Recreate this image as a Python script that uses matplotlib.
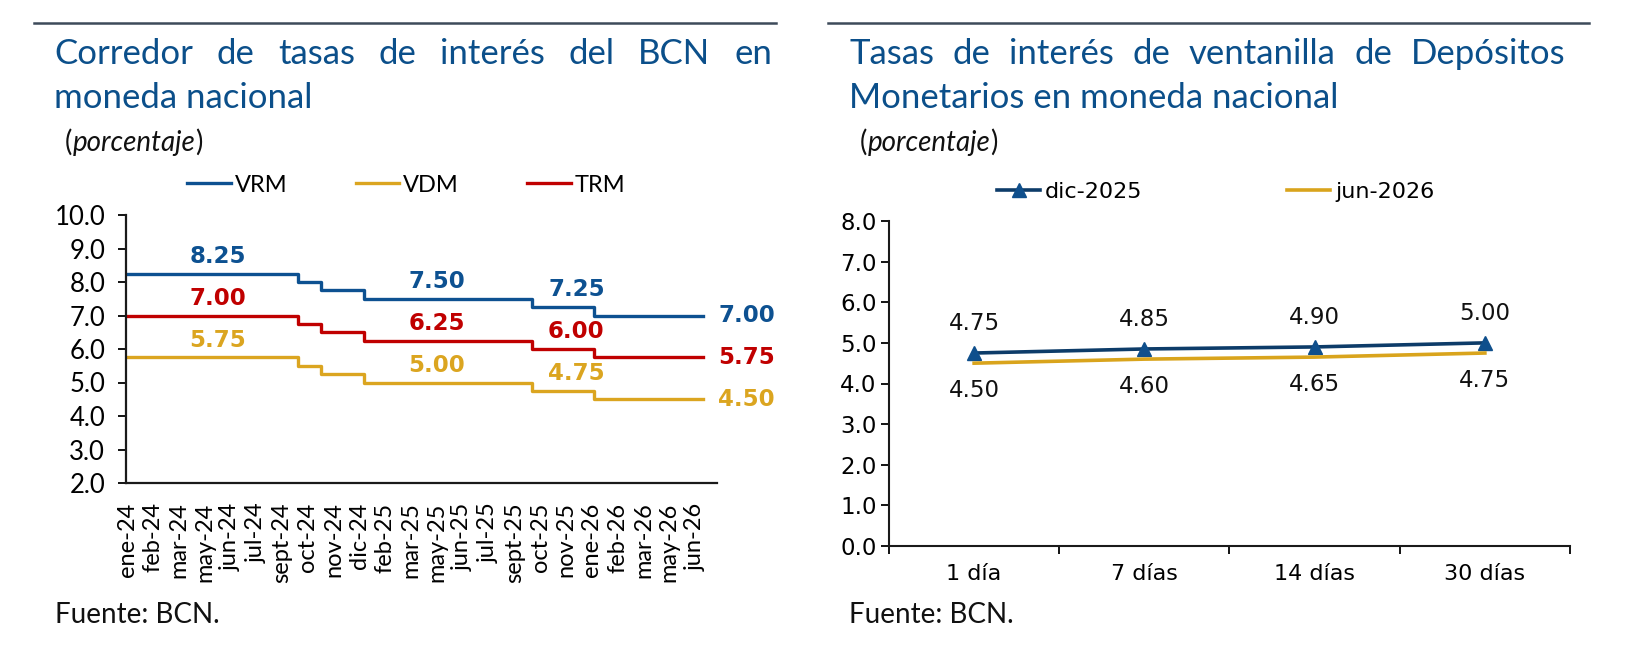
import matplotlib

matplotlib.use("Agg")
import matplotlib.pyplot as plt
from matplotlib.ticker import FormatStrFormatter

# --- datos: corredor de tasas (eje por categorias, cambios) ---
fechas = ["ene-24", "feb-24", "mar-24", "may-24", "jun-24", "jul-24", "sept-24",
          "oct-24", "nov-24", "dic-24", "feb-25", "mar-25", "may-25", "jun-25",
          "jul-25", "sept-25", "oct-25", "nov-25", "ene-26", "feb-26", "mar-26",
          "may-26", "jun-26"]
# posicion (en unidades del eje) donde empieza cada nivel, ultimo = fin de la serie
cambios = [0.0, 6.62, 7.52, 9.16, 15.68, 18.1, 22.3]
vrm = [8.25, 8.00, 7.75, 7.50, 7.25, 7.00]
vdm = [5.75, 5.50, 5.25, 5.00, 4.75, 4.50]
trm = [7.00, 6.75, 6.50, 6.25, 6.00, 5.75]
# tramos rotulados y donde va el rotulo
tramos_rot = [0, 3, 4]
x_rot = [3.5, 12.0, 17.4]

# --- datos: ventanilla de depositos monetarios ---
plazos = ["1 día", "7 días", "14 días", "30 días"]
dic_2025 = [4.75, 4.85, 4.90, 5.00]
jun_2026 = [4.50, 4.60, 4.65, 4.75]

AZUL = "#0d5191"
ORO = "#dba520"
ROJO = "#c00000"
TITULO = "#0b4f8a"
FUT = "Lato"

W, H = 1638, 654
fig = plt.figure(figsize=(W / 100, H / 100), dpi=100)

# capa para textos y reglas en coordenadas de pixel
ov = fig.add_axes([0, 0, 1, 1])
ov.set_xlim(0, W)
ov.set_ylim(H, 0)
ov.axis("off")

ov.plot([34, 776], [23, 23], color="#3d4a5a", lw=1.8)
ov.plot([828, 1589], [23, 23], color="#3d4a5a", lw=1.8)

renderer = fig.canvas.get_renderer()


def justificado(texto, x0, x1, y, **kw):
    palabras = texto.split()
    objs = [ov.text(0, y, p, va="baseline", **kw) for p in palabras]
    anchos = [o.get_window_extent(renderer=renderer).width for o in objs]
    gap = (x1 - x0 - sum(anchos)) / (len(palabras) - 1)
    x = x0
    for o, a in zip(objs, anchos):
        o.set_x(x)
        x += a + gap


tkw = dict(family=FUT, fontsize=25, color=TITULO)
justificado("Corredor de tasas de interés del BCN en", 54, 772, 64, **tkw)
ov.text(54, 108, "moneda nacional", va="baseline", **tkw)
justificado("Tasas de interés de ventanilla de Depósitos", 849, 1565, 64, **tkw)
ov.text(849, 108, "Monetarios en moneda nacional", va="baseline", **tkw)

for x0 in (65, 860):
    t1 = ov.text(x0, 151, "(", va="baseline", family=FUT, fontsize=20, color="#111111")
    t2 = ov.annotate("porcentaje", xy=(1, 0), xycoords=t1, va="bottom",
                     family=FUT, fontsize=20, style="italic", color="#111111")
    ov.annotate(")", xy=(1, 0), xycoords=t2, va="bottom",
                family=FUT, fontsize=20, color="#111111")

ov.text(55, 615, "Fuente: BCN.", va="center", family=FUT, fontsize=20, color="#111111")
ov.text(849, 615, "Fuente: BCN.", va="center", family=FUT, fontsize=20, color="#111111")

# ---------------- panel izquierdo ----------------
ax1 = fig.add_axes([126 / W, 1 - 483 / H, (717 - 126) / W, (483 - 215) / H])
series = [("VRM", vrm, AZUL), ("VDM", vdm, ORO), ("TRM", trm, ROJO)]
for nombre, vals, col in series:
    ax1.step(cambios, vals + vals[-1:], where="post", color=col, lw=2.4, label=nombre)

ax1.set_xlim(-0.05, 22.85)
ax1.set_ylim(2, 10)
ax1.set_xticks(range(len(fechas)))
ax1.set_xticklabels(fechas, rotation=90, family=FUT, fontsize=17)
ax1.set_yticks(range(2, 11))
ax1.yaxis.set_major_formatter(FormatStrFormatter("%.1f"))
for lab in ax1.get_yticklabels():
    lab.set_family(FUT)
    lab.set_fontsize(18.5)
ax1.tick_params(axis="x", length=0, pad=14)
ax1.tick_params(axis="y", length=6, width=1.3, pad=9)
for s in ("top", "right"):
    ax1.spines[s].set_visible(False)
for s in ("left", "bottom"):
    ax1.spines[s].set_linewidth(1.6)
    ax1.spines[s].set_color("#1a1a1a")

for nombre, vals, col in series:
    for i, xr in zip(tramos_rot, x_rot):
        ax1.annotate(f"{vals[i]:.2f}", (xr, vals[i]), xytext=(0, 12.5),
                     textcoords="offset points", ha="center", va="center",
                     fontweight="bold", fontsize=16.5, color=col)
    ax1.annotate(f"{vals[-1]:.2f}", (22.85, vals[-1]), xytext=(1, 0),
                 textcoords="offset points", ha="left", va="center",
                 fontweight="bold", fontsize=16.5, color=col, annotation_clip=False)

ax1.legend(loc="center left", bbox_to_anchor=(187, 185), bbox_transform=ov.transData,
           ncol=3, frameon=False, handlelength=1.86, handletextpad=0.15,
           columnspacing=2.9, borderpad=0, borderaxespad=0,
           prop={"family": FUT, "size": 17})

# ---------------- panel derecho ----------------
ax2 = fig.add_axes([889 / W, 1 - 546 / H, (1570 - 889) / W, (546 - 221) / H])
xs = range(len(plazos))
ax2.plot(xs, dic_2025, color="#0d3c69", lw=2.6, marker="^", ms=10,
         mfc="#0f4f8c", mec="#0f4f8c", label="dic-2025")
ax2.plot(xs, jun_2026, color="#d9a41c", lw=2.6, label="jun-2026")

for x, v in zip(xs, dic_2025):
    ax2.annotate(f"{v:.2f}", (x, v), xytext=(0, 21), textcoords="offset points",
                 ha="center", va="center", fontsize=16.5, color="#111111")
for x, v in zip(xs, jun_2026):
    ax2.annotate(f"{v:.2f}", (x, v), xytext=(0, -20), textcoords="offset points",
                 ha="center", va="center", fontsize=16.5, color="#111111")

ax2.set_xlim(-0.5, 3.5)
ax2.set_ylim(0, 8)
ax2.set_xticks(list(xs))
ax2.set_xticklabels(plazos, fontsize=16)
ax2.set_xticks([i - 0.5 for i in range(len(plazos) + 1)], minor=True)
ax2.set_yticks(range(0, 9))
ax2.yaxis.set_major_formatter(FormatStrFormatter("%.1f"))
ax2.tick_params(axis="y", labelsize=16.5, length=6, width=1.3, pad=3)
ax2.tick_params(axis="x", which="major", length=0, pad=13)
ax2.tick_params(axis="x", which="minor", length=6, width=1.3)
for s in ("top", "right"):
    ax2.spines[s].set_visible(False)
for s in ("left", "bottom"):
    ax2.spines[s].set_linewidth(1.5)
    ax2.spines[s].set_color("#1a1a1a")

ax2.legend(loc="center left", bbox_to_anchor=(997, 192), bbox_transform=ov.transData,
           ncol=2, frameon=False, handlelength=1.94, handletextpad=0.22,
           columnspacing=6.5, borderpad=0, borderaxespad=0, fontsize=16)

fig.savefig("out.png", dpi=100)
